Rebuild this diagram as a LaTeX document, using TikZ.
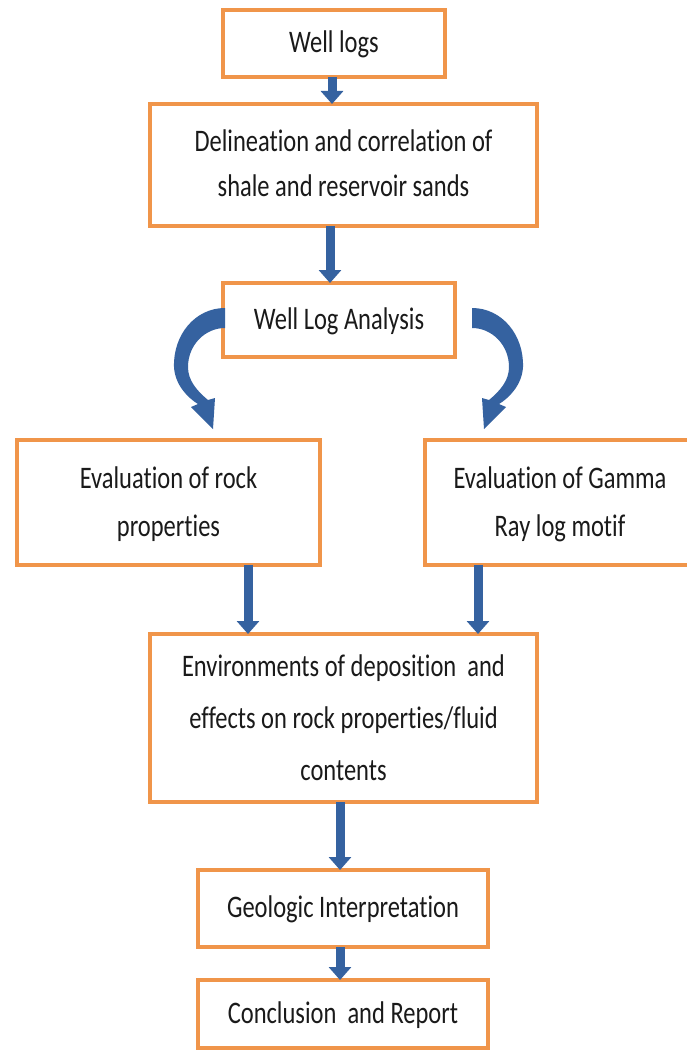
\documentclass[tikz,border=0pt]{standalone}
\usepackage{fontspec}
\setmainfont{Carlito}[Ligatures={NoCommon}]
\usepackage{graphicx}
\usetikzlibrary{arrows.meta}
\definecolor{boxorange}{HTML}{F0954A}
\definecolor{arrblue}{HTML}{3562A0}
\definecolor{txtcol}{HTML}{1A1A1A}
\newcommand{\tx}[2][35.2]{\scalebox{1}[1.28]{\fontsize{24.5}{#1}\selectfont\begin{tabular}{@{}c@{}}#2\end{tabular}}}
\begin{document}
\begin{tikzpicture}[x=1pt,y=-1pt,
  box/.style={draw=boxorange, line width=4.5pt, fill=white, rectangle, inner sep=0pt, outer sep=0pt, text=txtcol, align=center},
  arr/.style={draw=arrblue, line width=9pt, -{Triangle[length=13pt,width=22pt]}},
  curvearr/.style={fill=arrblue, draw=none}]
\useasboundingbox[fill=white] (0,0) rectangle (686,1051);

\node[box, minimum width=222pt, minimum height=67pt] (b1) at (334,43.5) {\tx{Well logs}};
\node[box, minimum width=387pt, minimum height=122pt] (b2) at (343.5,165) {\tx[35.2]{Delineation and correlation of\\shale and reservoir sands}};
\node[box, minimum width=232pt, minimum height=74pt] (b3) at (339,320) {\tx{Well Log Analysis}};
\node[box, minimum width=303pt, minimum height=125pt] (b4) at (168.5,502.5) {\tx[37.5]{Evaluation of rock\\properties}};
\node[box, minimum width=270pt, minimum height=125pt] (b5) at (560,502.5) {\tx[37.5]{Evaluation of Gamma\\Ray log motif}};
\node[box, minimum width=387pt, minimum height=168pt] (b6) at (343.5,718) {\tx[40.6]{Environments of deposition\ \ and\\effects on rock properties/fluid\\contents}};
\node[box, minimum width=290pt, minimum height=77pt] (b7) at (343,908.5) {\tx{Geologic Interpretation}};
\node[box, minimum width=290pt, minimum height=68pt] (b8) at (343,1014) {\tx{Conclusion\ \ and Report}};

% straight arrows
\draw[arr] ([xshift=-2pt]b1.south) -- ([xshift=-11.5pt]b2.north);
\draw[arr] ([xshift=-13.5pt]b2.south) -- ([xshift=-9pt]b3.north);
\draw[arr] ([xshift=79.5pt]b4.south) -- ([xshift=-95.5pt]b6.north);
\draw[arr] ([xshift=-82pt]b5.south) -- ([xshift=134.5pt]b6.north);
\draw[arr] ([xshift=-3.5pt]b6.south) -- ([xshift=-3pt]b7.north);
\draw[arr] ([xshift=-3pt]b7.south) -- ([xshift=-3pt]b8.north);

% curved arrows from Well Log Analysis
\begin{scope}[shift={([xshift=2pt]b3.west)}]
\fill[curvearr] (0,-12) .. controls (-30,-12) and (-52,15) .. (-51,47)
  .. controls (-50,65) and (-37,78) .. (-27,84)
  -- (-34,87) -- (-12,109) -- (-10,78) -- (-17,80)
  .. controls (-29,70) and (-37,60) .. (-37,47)
  .. controls (-37,25) and (-20,8) .. (0,8) -- cycle;
\end{scope}
\begin{scope}[shift={([xshift=17pt]b3.east)}, xscale=-1]
\fill[curvearr] (0,-12) .. controls (-30,-12) and (-52,15) .. (-51,47)
  .. controls (-50,65) and (-37,78) .. (-27,84)
  -- (-34,87) -- (-12,109) -- (-10,78) -- (-17,80)
  .. controls (-29,70) and (-37,60) .. (-37,47)
  .. controls (-37,25) and (-20,8) .. (0,8) -- cycle;
\end{scope}
\end{tikzpicture}
\end{document}
